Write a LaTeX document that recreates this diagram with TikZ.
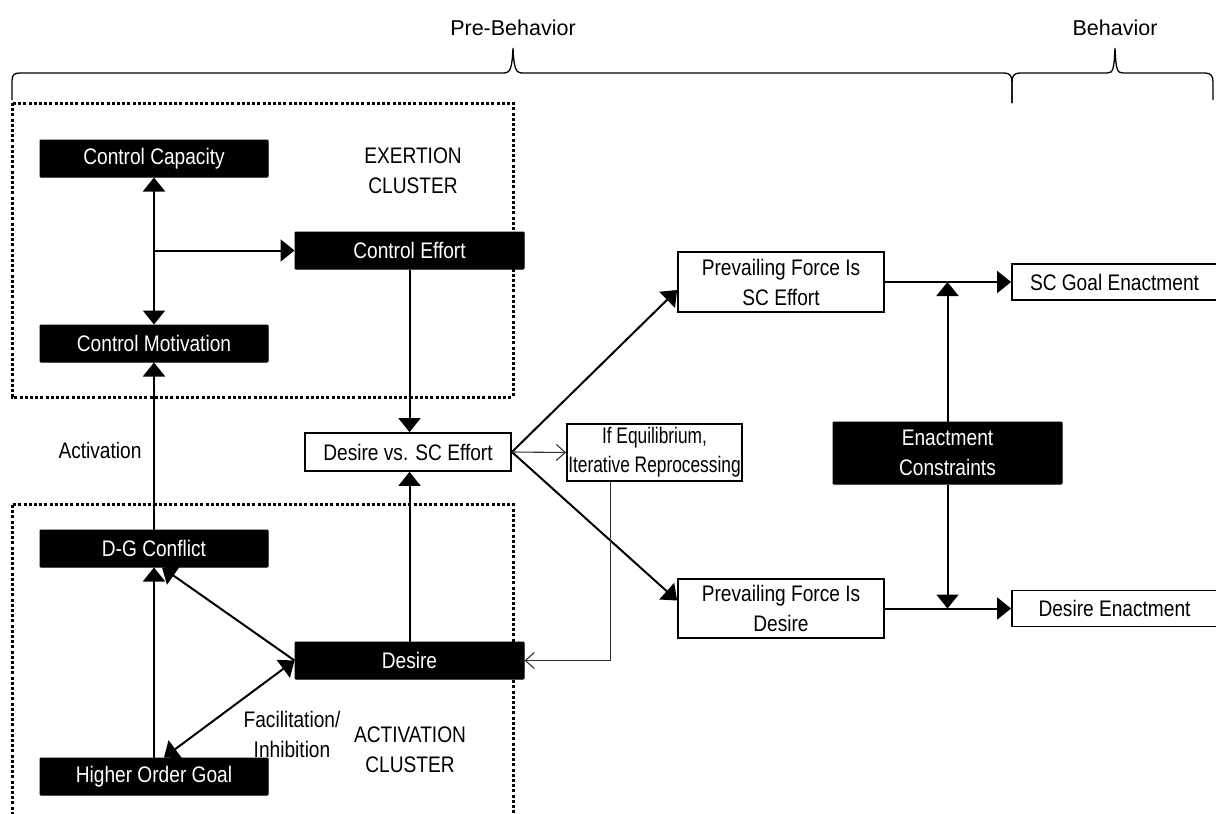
\documentclass[tikz,border=0pt]{standalone}
\usepackage{fontspec}
\setmainfont{Liberation Sans}[FakeStretch=0.85]
\newfontfamily\widefont{Liberation Sans}
\newfontfamily\narrowfont{Liberation Sans}[FakeStretch=0.77]
\usetikzlibrary{arrows.meta,positioning,calc}
\begin{document}
\begin{tikzpicture}[x=1pt,y=-1pt,
  every node/.style={font=\fontsize{22.5}{30}\selectfont, inner sep=0pt, align=center},
  blk/.style={draw=black, fill=black, text=white, line width=1pt, rounded corners=0.8pt},
  wht/.style={draw=black, fill=white, line width=1.8pt},
  tri/.style={line width=2pt, -{Triangle[length=14pt,width=22pt]}},
  tritwo/.style={line width=2pt, {Triangle[length=14pt,width=22pt]}-{Triangle[length=14pt,width=22pt]}},
  barb/.style={line width=1.1pt, draw=black!80, -{Straight Barb[length=9pt,width=16pt,line width=1.1pt]}},
  cluster/.style={line width=3pt, dash pattern=on 3pt off 2.2pt},
  brace/.style={line width=1.3pt}
]
\useasboundingbox (0,0) rectangle (1216,814);

% braces
\draw[brace] (12,100) -- (12,81) .. controls (12,75) and (14,73) .. (20,73) -- (503,73)
  .. controls (510,73) and (512,70) .. (513,48) .. controls (514,70) and (516,73) .. (523,73)
  -- (1004,73) .. controls (1010,73) and (1012,76) .. (1012,82) -- (1012,103);
\draw[brace] (1012,103) -- (1012,82) .. controls (1012,76) and (1014,73) .. (1020,73) -- (1107,73)
  .. controls (1113,73) and (1114,70) .. (1115,48) .. controls (1116,70) and (1117,73) .. (1123,73)
  -- (1205,73) .. controls (1211,73) and (1213,76) .. (1213,82) -- (1213,100);
\node[font=\widefont\fontsize{21.5}{24}\selectfont] (prelab) at (513,28) {Pre-Behavior};
\node[font=\widefont\fontsize{21.5}{24}\selectfont] (behlab) at (1115,28) {Behavior};

% clusters
\draw[cluster] (12,103) rectangle (513,397);
\draw[cluster] (12,820) -- (12,504) -- (513,504) -- (513,820);

% nodes
\node[blk, minimum width=228pt, minimum height=37pt] (cc) at (154,158.5) {Control Capacity};
\node[blk, minimum width=228pt, minimum height=37pt] (cm) at (154,343.5) {Control Motivation};
\node[blk, minimum width=229pt, minimum height=37pt] (ce) at (409.5,250.5) {Control Effort};
\node (exlab) at (413,171) {EXERTION\\CLUSTER};
\node[wht, minimum width=206pt, minimum height=38pt] (dvs) at (408,452) {Desire vs. SC Effort};
\node[wht, minimum width=175pt, minimum height=57pt, font=\narrowfont\fontsize{22.5}{29}\selectfont] (ie) at (654.5,452.5) {If Equilibrium,\\Iterative Reprocessing};
\node (actlab) at (100,450) {Activation};
\node[blk, minimum width=228pt, minimum height=37pt] (dg) at (154,548.5) {D-G Conflict};
\node[blk, minimum width=229pt, minimum height=37pt] (de) at (409.5,660.5) {Desire};
\node[blk, minimum width=228pt, minimum height=37pt] (hog) at (154,776.5) {Higher Order Goal};
\node (faclab) at (292,734) {Facilitation/\\Inhibition};
\node (aclab) at (410,750) {ACTIVATION\\CLUSTER};
\node[wht, minimum width=206pt, minimum height=60pt] (psc) at (781,282) {Prevailing Force Is\\SC Effort};
\node[wht, minimum width=206pt, minimum height=59pt] (pd) at (781,608.5) {Prevailing Force Is\\Desire};
\node[wht, minimum width=205pt, minimum height=36pt] (scg) at (1114.5,282) {SC Goal Enactment};
\node[wht, minimum width=205pt, minimum height=36pt] (den) at (1114.5,608.5) {Desire Enactment};
\node[blk, minimum width=229pt, minimum height=62pt] (ec) at (947.5,453) {Enactment\\Constraints};

% connectors
\coordinate (br) at (cc.south |- ce.west);
\draw[tritwo] (cc.south) -- (cm.north);
\draw[tri] (br) -- (ce.west);
\draw[tri] (ce.south) -- (ce.south |- dvs.north);
\draw[tri] (dg.north) -- (cm.south);
\draw[tri] (hog.north) -- (dg.south);
\draw[tri] (de.north) -- (de.north |- dvs.south);
\draw[tri] (de.west) -- ([xshift=8pt]dg.south);
\draw[tritwo] (de.west) -- ([xshift=10pt]hog.north);
\draw[tri] (dvs.east) -- ([yshift=-8pt]psc.west);
\draw[tri] (dvs.east) -- ([yshift=8pt]pd.west);
\draw[barb] (dvs.east) -- (ie.west);
\draw[barb] ([xshift=-44pt]ie.south) |- (de.east);
\draw[tri] (psc.east) -- (scg.west);
\draw[tri] (pd.east) -- (den.west);
\draw[tri] (ec.north) -- (ec.north |- psc.east);
\draw[tri] (ec.south) -- (ec.south |- pd.east);
\end{tikzpicture}
\end{document}
